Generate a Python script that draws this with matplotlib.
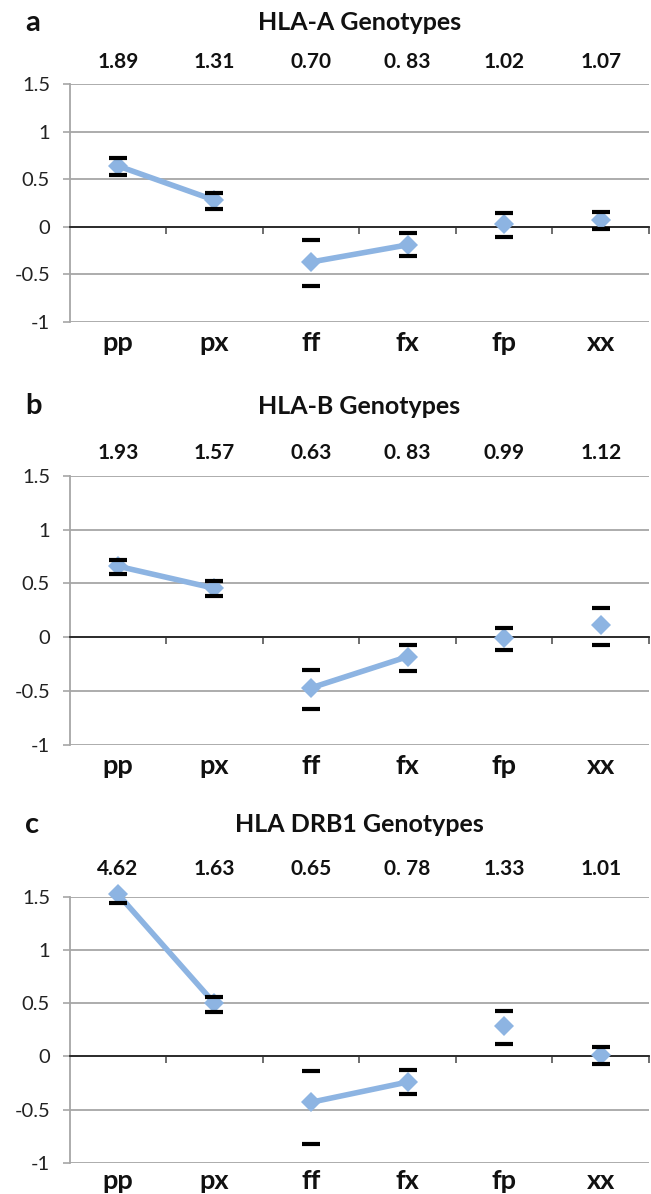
import matplotlib
matplotlib.use("Agg")
import matplotlib.pyplot as plt
import matplotlib.transforms as mtransforms

plt.rcParams['font.family'] = ['Lato', 'DejaVu Sans']

categories = ['pp', 'px', 'ff', 'fx', 'fp', 'xx']

titles = ['HLA-A Genotypes', 'HLA-B Genotypes', 'HLA DRB1 Genotypes']
panel_letters = ['a', 'b', 'c']

ratios_a = ['1.89', '1.31', '0.70', '0. 83', '1.02', '1.07']
mean_a = [0.64, 0.28, -0.37, -0.19, 0.025, 0.07]
upper_a = [0.72, 0.35, -0.14, -0.07, 0.15, 0.16]
lower_a = [0.54, 0.19, -0.62, -0.31, -0.105, -0.02]

ratios_b = ['1.93', '1.57', '0.63', '0. 83', '0.99', '1.12']
mean_b = [0.66, 0.455, -0.47, -0.18, -0.005, 0.11]
upper_b = [0.72, 0.52, -0.30, -0.07, 0.09, 0.27]
lower_b = [0.585, 0.38, -0.67, -0.31, -0.12, -0.07]

ratios_c = ['4.62', '1.63', '0.65', '0. 78', '1.33', '1.01']
mean_c = [1.525, 0.50, -0.43, -0.24, 0.285, 0.01]
upper_c = [1.60, 0.56, -0.14, -0.13, 0.43, 0.09]
lower_c = [1.44, 0.42, -0.825, -0.35, 0.12, -0.075]

connected_pairs = [(0, 1), (2, 3)]

yticks = [-1, -0.5, 0, 0.5, 1, 1.5]
ytick_labels = ['-1', '-0.5', '0', '0.5', '1', '1.5']

W, H = 651, 1194
fig = plt.figure(figsize=(W / 100, H / 100), dpi=100)

# layout in pixels: (top of plot, bottom of plot, title y, ratio y, label y)
layout = [
    (84, 322, 23, 62, 343),
    (475.7, 745, 406, 452.7, 766),
    (896.7, 1163, 825, 869, 1181),
]
ax_left, ax_right = 69.5, 649

panels = [
    (ratios_a, mean_a, upper_a, lower_a),
    (ratios_b, mean_b, upper_b, lower_b),
    (ratios_c, mean_c, upper_c, lower_c),
]

blue = '#8DB4E2'
grid_grey = '#a6a6a6'
text_col = '#111111'

for k, ((ratios, mean, upper, lower), (top, bot, ty, ry, ly)) in enumerate(zip(panels, layout)):
    ax = fig.add_axes([ax_left / W, 1 - bot / H, (ax_right - ax_left) / W, (bot - top) / H])
    x = list(range(len(categories)))
    ax.set_xlim(-0.5, len(categories) - 0.5)
    ax.set_ylim(-1, 1.5)
    ax.set_yticks(yticks)
    ax.set_yticklabels(ytick_labels, fontsize=14.5)
    ax.yaxis.grid(True, color=grid_grey, linewidth=1.3)
    ax.set_axisbelow(True)
    ax.tick_params(axis='y', length=5, width=1.2, color=grid_grey, pad=9, labelcolor='#222222')
    for s in ['top', 'right']:
        ax.spines[s].set_visible(False)
    ax.spines['left'].set_color(grid_grey)
    ax.spines['left'].set_linewidth(1.3)
    ax.spines['bottom'].set_position(('data', 0))
    ax.spines['bottom'].set_color('#222222')
    ax.spines['bottom'].set_linewidth(1.3)
    ax.set_xticks([i + 0.5 for i in x])
    ax.set_xticklabels([])
    ax.tick_params(axis='x', direction='out', length=5, width=1.2, color='#555555')

    # connecting lines
    for a, b in connected_pairs:
        ax.plot([x[a], x[b]], [mean[a], mean[b]], color=blue, linewidth=4.0,
                solid_capstyle='round', zorder=3)
    # markers
    ax.plot(x, mean, linestyle='none', marker='D', markersize=10,
            markerfacecolor=blue, markeredgewidth=0, zorder=4, clip_on=False)
    # error caps
    ax.plot(x, upper, linestyle='none', marker='_', markersize=13,
            markeredgewidth=3.0, color='black', zorder=5)
    ax.plot(x, lower, linestyle='none', marker='_', markersize=13,
            markeredgewidth=3.0, color='black', zorder=5)

    trans = mtransforms.blended_transform_factory(ax.transData, fig.transFigure)
    for i, (cat, r) in enumerate(zip(categories, ratios)):
        ax.text(x[i], 1 - ry / H, r, transform=trans, ha='center', va='center',
                fontsize=15, fontweight='bold', color=text_col)
        ax.text(x[i], 1 - ly / H, cat, transform=trans, ha='center', va='center',
                fontsize=19.5, fontweight='bold', color=text_col)

    fig.text((ax_left + ax_right) / 2 / W, 1 - ty / H, titles[k], ha='center', va='center',
             fontsize=18, fontweight='bold', color=text_col)
    fig.text(25 / W, 1 - ty / H, panel_letters[k], ha='left', va='center',
             fontsize=21, fontweight='bold', color=text_col)

fig.savefig('out.png', dpi=100, facecolor='white')
